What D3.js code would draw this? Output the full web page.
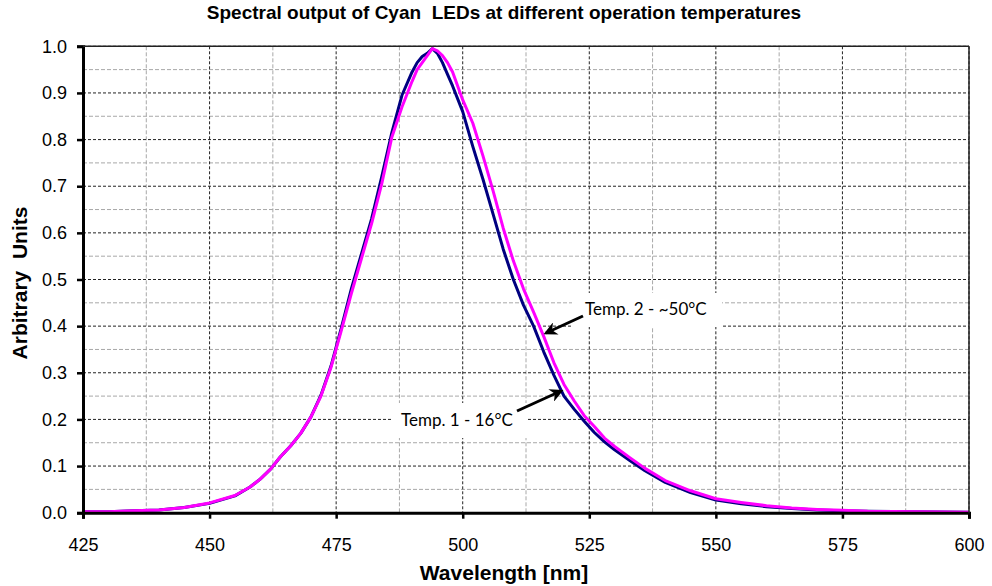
<!DOCTYPE html>
<html>
<head>
<meta charset="utf-8">
<script src="https://cdn.jsdelivr.net/npm/d3@7/dist/d3.min.js"></script>
<style>
body { margin: 0; background: #fff; }
svg { display: block; }
</style>
</head>
<body>
<div id="chart"></div>
<script>
// wavelengths in nm
var wavelengths = [425, 430, 435, 440, 445, 450, 455, 458, 460, 462, 464, 466, 468, 470, 472, 474, 476, 478, 480, 482, 484, 486, 488, 490, 491, 492, 493, 494, 495, 496, 497, 498, 500, 502, 504, 506, 508, 510, 512, 514, 516, 518, 520, 522, 524, 526, 528, 530, 533, 536, 540, 545, 550, 555, 560, 565, 570, 575, 580, 590, 600];
// Temp. 1 - 16°C (navy)
var temp1Values = [0.002, 0.002, 0.004, 0.006, 0.011, 0.020, 0.036, 0.055, 0.072, 0.093, 0.120, 0.143, 0.170, 0.205, 0.252, 0.315, 0.395, 0.480, 0.555, 0.630, 0.720, 0.815, 0.895, 0.945, 0.965, 0.978, 0.985, 0.995, 0.985, 0.965, 0.940, 0.915, 0.860, 0.785, 0.715, 0.640, 0.565, 0.500, 0.445, 0.400, 0.345, 0.295, 0.250, 0.222, 0.196, 0.172, 0.152, 0.135, 0.112, 0.090, 0.065, 0.043, 0.027, 0.019, 0.013, 0.009, 0.006, 0.004, 0.003, 0.002, 0.001];
// Temp. 2 - ~50°C (magenta)
var temp2Values = [0.002, 0.002, 0.004, 0.006, 0.011, 0.021, 0.037, 0.055, 0.072, 0.093, 0.120, 0.143, 0.170, 0.205, 0.250, 0.312, 0.390, 0.470, 0.545, 0.620, 0.705, 0.805, 0.870, 0.925, 0.950, 0.965, 0.980, 0.995, 0.990, 0.980, 0.965, 0.945, 0.885, 0.835, 0.765, 0.690, 0.610, 0.540, 0.480, 0.430, 0.378, 0.322, 0.275, 0.240, 0.208, 0.185, 0.160, 0.142, 0.118, 0.095, 0.069, 0.047, 0.030, 0.022, 0.015, 0.010, 0.007, 0.005, 0.003, 0.002, 0.001];
var xTickValues = [425, 450, 475, 500, 525, 550, 575, 600];
var xMinorValues = [437.5, 462.5, 487.5, 512.5, 537.5, 562.5, 587.5];
var yTickValues = [0.0, 0.1, 0.2, 0.3, 0.4, 0.5, 0.6, 0.7, 0.8, 0.9, 1.0];
var yMinorValues = [0.05, 0.15, 0.25, 0.35, 0.45, 0.55, 0.65, 0.75, 0.85, 0.95];

var W = 992, H = 586;
var rect = [83, 46.3, 969, 512.7]; // left, top, right, bottom
var font = "'Liberation Sans', Arial, sans-serif";

var svg = d3.select("#chart").append("svg").attr("width", W).attr("height", H);

var x = d3.scaleLinear().domain([425, 600]).range([rect[0], rect[2]]);
var y = d3.scaleLinear().domain([0, 1]).range([rect[3], rect[1]]);

function drawGrid(){
	var g = svg.append("g").attr("class", "grid");
	// minor lines first, lighter
	g.selectAll(".ymin").data(yMinorValues).enter().append("line")
		.attr("x1", rect[0]).attr("x2", rect[2])
		.attr("y1", function(d){ return y(d); }).attr("y2", function(d){ return y(d); })
		.attr("stroke", "#a8a8a8").attr("stroke-dasharray", "4 2").attr("stroke-width", 1);
	g.selectAll(".xmin").data(xMinorValues).enter().append("line")
		.attr("y1", rect[1]).attr("y2", rect[3])
		.attr("x1", function(d){ return x(d); }).attr("x2", function(d){ return x(d); })
		.attr("stroke", "#a8a8a8").attr("stroke-dasharray", "4 2").attr("stroke-width", 1);
	g.selectAll(".ymaj").data(yTickValues.slice(1)).enter().append("line")
		.attr("x1", rect[0]).attr("x2", rect[2])
		.attr("y1", function(d){ return y(d); }).attr("y2", function(d){ return y(d); })
		.attr("stroke", "#222").attr("stroke-dasharray", "3 2").attr("stroke-width", 1);
	g.selectAll(".xmaj").data(xTickValues.slice(1)).enter().append("line")
		.attr("y1", rect[1]).attr("y2", rect[3])
		.attr("x1", function(d){ return x(d); }).attr("x2", function(d){ return x(d); })
		.attr("stroke", "#222").attr("stroke-dasharray", "3 2").attr("stroke-width", 1);
}

function drawLabelBox(bx, by, bw, bh){
	svg.append("rect").attr("x", bx).attr("y", by).attr("width", bw).attr("height", bh)
		.attr("fill", "#fff");
}

function drawCurves(){
	var line = d3.line()
		.x(function(d){ return x(d[0]); })
		.y(function(d){ return y(d[1]); });
	var s1 = d3.zip(wavelengths, temp1Values);
	var s2 = d3.zip(wavelengths, temp2Values);
	svg.append("path").datum(s1).attr("d", line)
		.attr("fill", "none").attr("stroke", "#000080").attr("stroke-width", 3)
		.attr("stroke-linejoin", "round");
	svg.append("path").datum(s2).attr("d", line)
		.attr("fill", "none").attr("stroke", "#ff00ff").attr("stroke-width", 3)
		.attr("stroke-linejoin", "round");
}

function drawAxes(){
	var xAxis = d3.axisBottom(x).tickValues(xTickValues).tickSize(6).tickPadding(20)
		.tickFormat(d3.format("d"));
	var yAxis = d3.axisLeft(y).tickValues(yTickValues).tickSize(6).tickPadding(10)
		.tickFormat(d3.format(".1f"));

	var gx = svg.append("g").attr("transform", "translate(0," + rect[3] + ")").call(xAxis);
	var gy = svg.append("g").attr("transform", "translate(" + rect[0] + ",0)").call(yAxis);
	[gx, gy].forEach(function(g){
		g.select(".domain").attr("stroke", "#000").attr("stroke-width", 3);
		g.selectAll(".tick line").attr("stroke", "#000").attr("stroke-width", 2.5);
		g.selectAll(".tick text").attr("fill", "#000")
			.attr("font-family", font).attr("font-size", 18);
	});
	// right and top borders
	svg.append("line").attr("x1", rect[2]).attr("x2", rect[2]).attr("y1", rect[1]).attr("y2", rect[3])
		.attr("stroke", "#222").attr("stroke-width", 1.5);
	svg.append("line").attr("x1", rect[0]).attr("x2", rect[2]).attr("y1", rect[1]).attr("y2", rect[1])
		.attr("stroke", "#222").attr("stroke-width", 1.5);
}

function drawTexts(){
	svg.append("text").text("Spectral output of Cyan  LEDs at different operation temperatures")
		.attr("x", 504).attr("y", 19).attr("text-anchor", "middle")
		.attr("font-family", font).attr("font-weight", "bold").attr("font-size", 19)
		.style("white-space", "pre");
	svg.append("text").text("Wavelength [nm]")
		.attr("x", 504).attr("y", 580).attr("text-anchor", "middle")
		.attr("font-family", font).attr("font-weight", "bold").attr("font-size", 21);
	svg.append("text").text("Arbitrary  Units")
		.attr("transform", "translate(27,283) rotate(-90)").attr("text-anchor", "middle")
		.attr("font-family", font).attr("font-weight", "bold").attr("font-size", 21)
		.style("white-space", "pre");
}

function drawNotes(){
	var defs = svg.append("defs");
	defs.append("marker").attr("id", "arrowHead")
		.attr("viewBox", "0 0 10 10").attr("refX", 8).attr("refY", 5)
		.attr("markerWidth", 4.5).attr("markerHeight", 4.5).attr("orient", "auto")
		.append("path").attr("d", "M0,0 L10,5 L0,10 L3,5 Z").attr("fill", "#000");

	var notes = [
		{ text: "Temp. 2 - ~50°C", tx: 585, ty: 315, from: [583, 316], to: [546, 333] },
		{ text: "Temp. 1 - 16°C", tx: 401, ty: 426, from: [517, 411], to: [561, 391] }
	];
	notes.forEach(function(n){
		svg.append("text").text(n.text).attr("x", n.tx).attr("y", n.ty)
			.attr("font-family", "Lato, 'Noto Sans', sans-serif").attr("font-size", 17)
			.attr("fill", "#000");
		svg.append("line").attr("x1", n.from[0]).attr("y1", n.from[1])
			.attr("x2", n.to[0]).attr("y2", n.to[1])
			.attr("stroke", "#000").attr("stroke-width", 3)
			.attr("marker-end", "url(#arrowHead)");
	});
}

drawGrid();
drawLabelBox(572, 293, 150, 34);
drawLabelBox(391, 403, 136, 35);
drawCurves();
drawAxes();
drawTexts();
drawNotes();
</script>
</body>
</html>
